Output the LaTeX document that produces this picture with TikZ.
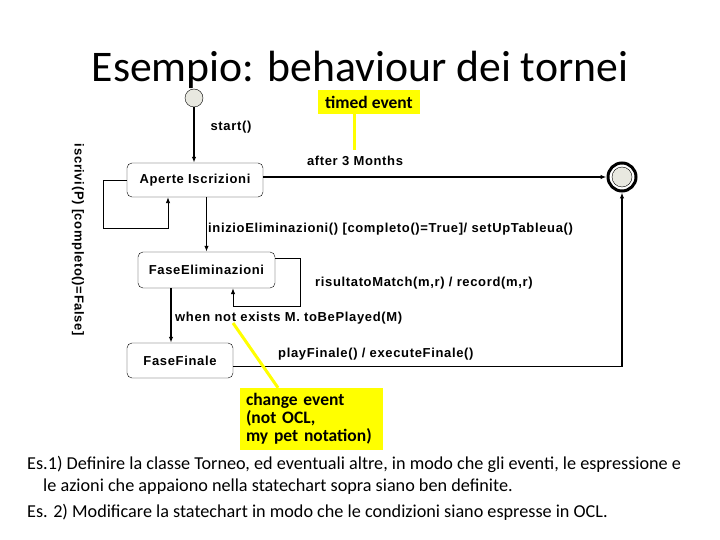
\documentclass[tikz,border=0pt]{standalone}
\usepackage{fontspec}
\setmainfont{Carlito}
\newfontfamily\umlfont[LetterSpace=5]{Liberation Sans}
\usetikzlibrary{arrows.meta}
\definecolor{Memo}{rgb}{1,1,0}
\definecolor{Pseudo}{rgb}{0.91,0.91,0.88}
\newcommand{\umltext}{\umlfont\bfseries\fontsize{13}{15}\selectfont}

\tikzset{
  state/.style={draw=black, thin, rounded corners=5pt, font=\umltext},
  trans/.style={line width=1.5pt, -{Latex[length=6pt,width=4.5pt]}},
  selfloop/.style={line width=0.9pt, -{Latex[length=6pt,width=4.5pt]}},
  lbl/.style={font=\umltext, inner sep=0pt},
  memo/.style={fill=Memo, inner sep=0pt, font=\bfseries\fontsize{17.5}{18}\selectfont},
  pointer/.style={draw=Memo, line width=3pt},
  exercise/.style={anchor=base west, inner sep=0pt, font=\fontsize{18.2}{22}\selectfont},
}

\begin{document}
\begin{tikzpicture}[x=1pt,y=-1pt]
  \useasboundingbox (0,0) rectangle (720,540);

  \node[font=\fontsize{43.7}{52}\selectfont, anchor=base] (title) at (360,82) {Esempio: behaviour dei tornei};

  % pseudo states
  \node[circle, draw=black, thin, fill=Pseudo, minimum size=18pt, inner sep=0pt] (init) at (194,98) {};
  \node[circle, draw=black, line width=3pt, fill=white, minimum size=28pt, inner sep=0pt] (final) at (622,177) {};
  \node[circle, draw=black, thin, fill=Pseudo, minimum size=20pt, inner sep=0pt] (finalcore) at (622,177) {};

  % states
  \node[state, minimum width=136pt, minimum height=34pt] (aperte) at (195,180) {Aperte Iscrizioni};
  \node[state, minimum width=137pt, minimum height=36pt] (elim) at (206.5,270) {FaseEliminazioni};
  \node[state, minimum width=106pt, minimum height=35pt] (finale) at (180,360.5) {FaseFinale};

  % transitions
  \draw[trans] (init.south) -- (init.south |- aperte.north);
  \draw[trans] (aperte.east |- final.west) -- (final.west);
  \draw[selfloop] (aperte.west) -| (103,228) -| ([xshift=-27pt]aperte.south);
  \draw[trans] (elim.north |- aperte.south) -- (elim.north);
  \draw[selfloop] ([yshift=12pt]elim.east) -- ++(25,0) -- ++(0,48) -| ([xshift=26.5pt]elim.south);
  \draw[trans] ([xshift=-35.5pt]elim.south) -- ([xshift=-35.5pt]elim.south |- finale.north);
  \draw[trans] ([yshift=-6pt]finale.east) -| (final.south);

  % labels
  \node[lbl] (start) at (231,127) {start()};
  \node[lbl] (after) at (355,161) {after 3 Months};
  \node[lbl, rotate=-90] (iscrivi) at (78,240) {iscrivi(P) [completo()=False]};
  \node[lbl, anchor=west] (inizio) at (208,229) {inizioEliminazioni() [completo()=True]/ setUpTableua()};
  \node[lbl, anchor=west] (risultato) at (315,283) {risultatoMatch(m,r) / record(m,r)};
  \node[lbl, anchor=west] (when) at (175,318) {when not exists M. toBePlayed(M)};
  \node[lbl, anchor=west] (play) at (278,354) {playFinale() / executeFinale()};

  % notes
  \node[memo, minimum width=102pt, minimum height=24pt] (timed) at (369,102) {timed event};
  \coordinate (timedend) at (354,150);
  \draw[pointer] ([xshift=-15pt]timed.south) -- (timedend);
  \node[memo, minimum width=143pt, minimum height=62pt, text width=131pt, align=left] (change) at (311.5,419)
    {change event\\(not OCL,\\my pet notation)};
  \coordinate (notword) at (233,323);
  \draw[pointer] (notword) -- ([xshift=-33.5pt]change.north);

  % exercises
  \node[exercise] (es1) at (27,469) {Es.1) Definire la classe Torneo, ed eventuali altre, in modo che gli eventi, le espressione e};
  \node[exercise] (es1b) at (43,491) {le azioni che appaiono nella statechart sopra siano ben definite.};
  \node[exercise] (es2) at (27,517) {Es. 2) Modificare la statechart in modo che le condizioni siano espresse in OCL.};
\end{tikzpicture}
\end{document}
